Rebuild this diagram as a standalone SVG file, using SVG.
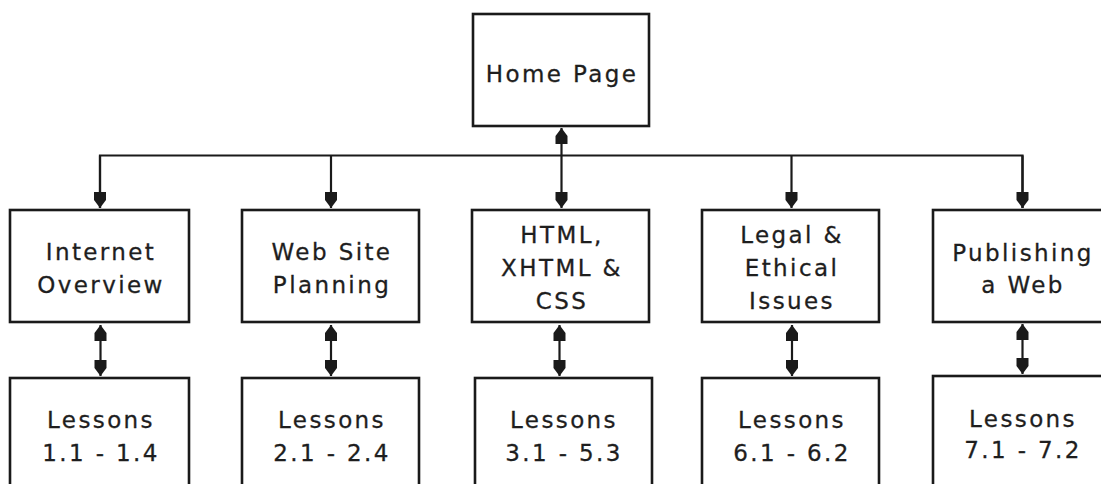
<svg xmlns="http://www.w3.org/2000/svg" width="1101" height="484" viewBox="0 0 1101 484">
<style>
.box{fill:#fff;stroke:#1a1a1a;stroke-width:2.6}
.ln{fill:none;stroke:#1a1a1a;stroke-width:2.2}
.t{font-family:"DejaVu Sans",Verdana,sans-serif;font-size:23px;fill:#1e1e1e;stroke:#1e1e1e;stroke-width:0.3;text-anchor:middle;letter-spacing:2.4px}
</style>
<defs>
<marker id="ah" markerUnits="userSpaceOnUse" markerWidth="17" markerHeight="14" viewBox="0 0 17 14" refX="16" refY="7" orient="auto-start-reverse">
<path d="M0,1 H8 L16,7 L8,13 H0 Z" fill="#1a1a1a"/>
</marker>
</defs>
<rect width="1101" height="484" fill="#fff"/>
<g id="connectors">
<polyline class="ln" points="100,208 100,155.5 1022.5,155.5 1022.5,208"/>
<line class="ln" x1="331" y1="155.5" x2="331" y2="208" marker-end="url(#ah)"/>
<line class="ln" x1="791.5" y1="155.5" x2="791.5" y2="208" marker-end="url(#ah)"/>
<line class="ln" x1="100" y1="155.5" x2="100" y2="208" marker-end="url(#ah)"/>
<line class="ln" x1="1022.5" y1="155.5" x2="1022.5" y2="208" marker-end="url(#ah)"/>
<line class="ln" x1="561.5" y1="128" x2="561.5" y2="208" marker-start="url(#ah)" marker-end="url(#ah)"/>
<line class="ln" x1="100.5" y1="325" x2="100.5" y2="376" marker-start="url(#ah)" marker-end="url(#ah)"/>
<line class="ln" x1="331" y1="325" x2="331" y2="376" marker-start="url(#ah)" marker-end="url(#ah)"/>
<line class="ln" x1="559.5" y1="325" x2="559.5" y2="376" marker-start="url(#ah)" marker-end="url(#ah)"/>
<line class="ln" x1="792" y1="325" x2="792" y2="376" marker-start="url(#ah)" marker-end="url(#ah)"/>
<line class="ln" x1="1022.5" y1="324" x2="1022.5" y2="374" marker-start="url(#ah)" marker-end="url(#ah)"/>
</g>
<g id="home">
<rect class="box" x="473" y="14" width="176" height="112"/>
<text class="t" x="562" y="82">Home Page</text>
</g>
<g id="internet">
<rect class="box" x="10" y="210" width="179" height="112"/>
<text class="t" x="101" y="260">Internet</text>
<text class="t" x="101" y="293">Overview</text>
</g>
<g id="website">
<rect class="box" x="242" y="210" width="177" height="112"/>
<text class="t" x="332" y="260">Web Site</text>
<text class="t" x="332" y="293">Planning</text>
</g>
<g id="html">
<rect class="box" x="472" y="210" width="177" height="112"/>
<text class="t" x="562" y="243">HTML,</text>
<text class="t" x="562" y="276">XHTML &amp;</text>
<text class="t" x="562" y="309">CSS</text>
</g>
<g id="legal">
<rect class="box" x="702" y="210" width="177" height="112"/>
<text class="t" x="792" y="243">Legal &amp;</text>
<text class="t" x="792" y="276">Ethical</text>
<text class="t" x="792" y="309">Issues</text>
</g>
<g id="publishing">
<rect class="box" x="933" y="210" width="177" height="112"/>
<text class="t" x="1023" y="261">Publishing</text>
<text class="t" x="1023" y="293">a Web</text>
</g>
<g id="lessons1">
<rect class="box" x="10" y="378" width="179" height="120"/>
<text class="t" x="101" y="428">Lessons</text>
<text class="t" x="101" y="461">1.1 - 1.4</text>
</g>
<g id="lessons2">
<rect class="box" x="242" y="378" width="177" height="120"/>
<text class="t" x="332" y="428">Lessons</text>
<text class="t" x="332" y="461">2.1 - 2.4</text>
</g>
<g id="lessons3">
<rect class="box" x="475" y="378" width="177" height="120"/>
<text class="t" x="564" y="428">Lessons</text>
<text class="t" x="564" y="461">3.1 - 5.3</text>
</g>
<g id="lessons6">
<rect class="box" x="702" y="378" width="177" height="120"/>
<text class="t" x="792" y="428">Lessons</text>
<text class="t" x="792" y="461">6.1 - 6.2</text>
</g>
<g id="lessons7">
<rect class="box" x="933" y="376" width="177" height="120"/>
<text class="t" x="1023" y="427">Lessons</text>
<text class="t" x="1023" y="458">7.1 - 7.2</text>
</g>
</svg>
